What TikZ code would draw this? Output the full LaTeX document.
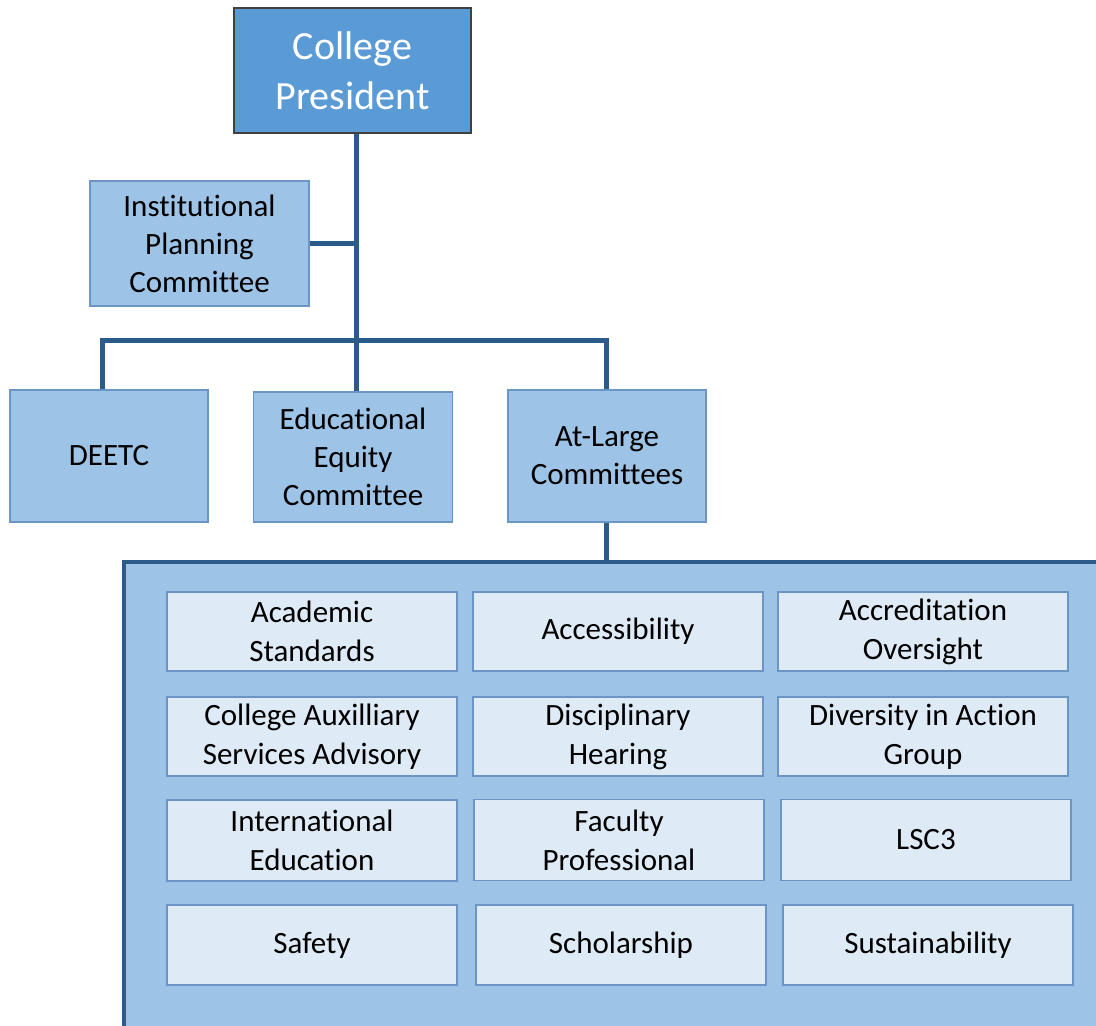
\documentclass[tikz,border=0pt]{standalone}
\usepackage{fontspec}
\setmainfont[Ligatures=NoCommon]{Carlito}
\definecolor{presfill}{HTML}{5B9BD5}
\definecolor{midfill}{HTML}{9DC3E6}
\definecolor{midline}{HTML}{6A95C4}
\definecolor{innerfill}{HTML}{DEEBF7}
\definecolor{conn}{HTML}{2B5B8A}
\begin{document}
\begin{tikzpicture}[x=1pt,y=-1pt,
  presbox/.style={draw=black!75,line width=1.5pt,fill=presfill,text=white,
    minimum width=237pt,minimum height=125pt,align=center,inner sep=0pt,
    font=\fontsize{40}{50}\selectfont},
  midbox/.style={draw=midline,line width=1.3pt,fill=midfill,minimum width=#1,
    minimum height=130pt,align=center,inner sep=0pt,font=\fontsize{31}{38}\selectfont},
  innerbox/.style={draw=midline,line width=1.3pt,fill=innerfill,minimum width=290pt,
    minimum height=79pt,align=center,inner sep=0pt,font=\fontsize{31}{39}\selectfont},
  link/.style={draw=conn,line width=5pt}]
\useasboundingbox (0,0) rectangle (1096,1026);
\clip (0,0) rectangle (1096,1026);
\node[presbox] (pres) at (352.5,70.5) {College\\President};
\node[midbox=219pt,minimum height=125pt] (ipc) at (199.5,243.5) {Institutional\\Planning\\Committee};
\coordinate (j) at (356,340);
\node[midbox=198pt,minimum height=132pt] (deetc) at (109,456) {DEETC};
\node[midbox=199pt] (eec) at (353,457) {Educational\\Equity\\Committee};
\node[midbox=198pt,minimum height=132pt] (al) at (607,456) {At-Large\\Committees};
\node[draw=conn,line width=4pt,fill=midfill,minimum width=980pt,minimum height=470pt,inner sep=0pt] (pool) at (614,797) {};
\draw[link] (pres.south -| j) -- (j);
\draw[link] (ipc.east) -- (ipc.east -| j);
\draw[link] (deetc.north -| 102,0) |- (j) -| (al.north -| 606,0);
\draw[link] (j) -- (j |- eec.north);
\draw[link] (al.south -| 606,0) -- (pool.north -| 606,0);
\node[innerbox] (a1) at (312,631.5) {Academic\\Standards};
\node[innerbox] (a2) at (618,631.5) {Accessibility};
\node[innerbox] (a3) at (923,631.5) {Accreditation\\Oversight};
\node[innerbox] (b1) at (312,736.5) {College Auxilliary\\Services Advisory};
\node[innerbox] (b2) at (618,736.5) {Disciplinary\\Hearing};
\node[innerbox] (b3) at (923,736.5) {Diversity in Action\\Group};
\node[innerbox,minimum height=81pt] (c1) at (312,840.5) {International\\Education};
\node[innerbox,minimum height=81pt] (c2) at (619,840) {Faculty\\Professional};
\node[innerbox,minimum height=81pt] (c3) at (926,840) {LSC3};
\node[innerbox,minimum height=80pt] (d1) at (312,945) {Safety};
\node[innerbox,minimum height=80pt] (d2) at (621,945) {Scholarship};
\node[innerbox,minimum height=80pt] (d3) at (928,945) {Sustainability};
\end{tikzpicture}
\end{document}
